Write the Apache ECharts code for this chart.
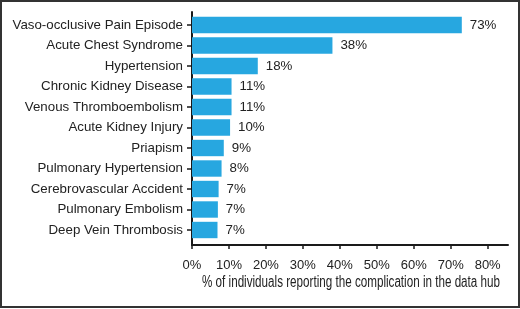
<!DOCTYPE html>
<html>
<head>
<meta charset="utf-8">
<script src="https://cdn.jsdelivr.net/npm/echarts@6/dist/echarts.min.js"></script>
<style>
  html, body { margin: 0; padding: 0; background: #fff; }
  #chart {
    position: absolute;
    left: 0;
    top: 0;
    width: 520px;
    height: 309px;
  }
  #frame {
    position: absolute;
    left: 0;
    top: 0;
    width: 520px;
    height: 308px;
    box-sizing: border-box;
    border: 2px solid #333;
    pointer-events: none;
  }
</style>
</head>
<body>
<div id="chart"></div>
<div id="frame"></div>
<script>
const categories = [
  'Vaso-occlusive Pain Episode',
  'Acute Chest Syndrome',
  'Hypertension',
  'Chronic Kidney Disease',
  'Venous Thromboembolism',
  'Acute Kidney Injury',
  'Priapism',
  'Pulmonary Hypertension',
  'Cerebrovascular Accident',
  'Pulmonary Embolism',
  'Deep Vein Thrombosis'
]
const values = [73, 38, 17.8, 10.7, 10.7, 10.3, 8.6, 8.0, 7.2, 7.0, 6.9]
const xTicks = [0, 10, 20, 30, 40, 50, 60, 70, 80]
const xName = '% of individuals reporting the complication in the data hub'

const myChart = echarts.init(document.getElementById('chart'))
const textColor = '#222'
const lineStyle = { color: '#1a1a1a', width: 2 }
const font = '"Liberation Sans", Arial, sans-serif'

// axis title is set in a condensed face, squeeze a normal one to the same width
const nameFont = '16px "Liberation Sans", Arial, sans-serif'
const ctx = document.createElement('canvas').getContext('2d')
ctx.font = nameFont
const nameScale = 298 / ctx.measureText(xName).width

const option = {
  animation: false,
  grid: [
    // bars
    { left: 192, width: 316, top: 14.75, height: 225.5, outerBoundsMode: 'none', containLabel: false },
    // axis lines (a bit longer than the bar band)
    { left: 192, width: 316, top: 12, height: 233, outerBoundsMode: 'none', containLabel: false }
  ],
  xAxis: [
    {
      gridIndex: 0,
      type: 'value',
      min: 0,
      max: 85.5,
      show: false
    },
    {
      gridIndex: 1,
      type: 'value',
      min: 0,
      max: 85.5,
      splitLine: { show: false },
      axisLine: { show: true, lineStyle },
      axisTick: {
        show: true,
        length: 4,
        lineStyle: { color: '#1a1a1a', width: 1.5 },
        customValues: xTicks
      },
      axisLabel: {
        customValues: xTicks,
        formatter: v => v + '%',
        color: textColor,
        fontFamily: font,
        fontSize: 13,
        margin: 14
      }
    }
  ],
  yAxis: [
    {
      gridIndex: 0,
      type: 'category',
      data: categories,
      inverse: true,
      axisLine: { show: false },
      axisTick: {
        show: true,
        alignWithLabel: true,
        length: 5,
        lineStyle: { color: '#1a1a1a', width: 1.5 }
      },
      axisLabel: {
        color: textColor,
        fontFamily: font,
        fontSize: 13.3,
        margin: 9
      }
    },
    {
      gridIndex: 1,
      type: 'category',
      data: categories,
      inverse: true,
      axisLine: { show: true, lineStyle },
      axisTick: { show: false },
      axisLabel: { show: false }
    }
  ],
  graphic: [
    {
      type: 'text',
      x: 351,
      y: 283,
      scaleX: nameScale,
      style: {
        text: xName,
        font: nameFont,
        fill: textColor,
        align: 'center',
        verticalAlign: 'middle'
      }
    }
  ],
  series: [
    {
      type: 'bar',
      xAxisIndex: 0,
      yAxisIndex: 0,
      data: values,
      barWidth: '80%',
      itemStyle: { color: '#27a7e0' },
      label: {
        show: true,
        position: 'right',
        distance: 8,
        formatter: p => Math.round(p.value) + '%',
        color: textColor,
        fontFamily: font,
        fontSize: 13.3
      }
    }
  ]
}

myChart.setOption(option)
</script>
</body>
</html>
